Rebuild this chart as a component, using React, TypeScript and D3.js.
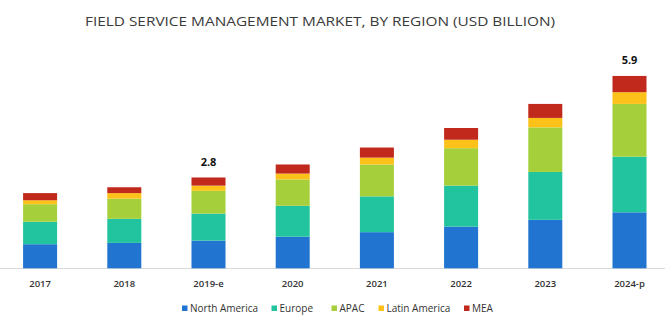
import React from "react";
import * as d3 from "d3";

const categories = ["2017", "2018", "2019-e", "2020", "2021", "2022", "2023", "2024-p"];
const seriesNames = ["North America", "Europe", "APAC", "Latin America", "MEA"];
const northAmerica = [0.74, 0.78, 0.85, 0.97, 1.11, 1.28, 1.49, 1.72];
const europe = [0.69, 0.74, 0.83, 0.95, 1.10, 1.26, 1.47, 1.71];
const apac = [0.54, 0.62, 0.70, 0.81, 0.98, 1.15, 1.37, 1.62];
const latinAmerica = [0.12, 0.17, 0.16, 0.18, 0.21, 0.26, 0.29, 0.36];
const mea = [0.22, 0.18, 0.25, 0.28, 0.31, 0.36, 0.43, 0.50];
const totalLabels: (string | null)[] = [null, null, "2.8", null, null, null, null, "5.9"];
const colors = ["#2175d1", "#22c4a0", "#a6d03b", "#fdc21a", "#c2291d"];

const W = 672;
const H = 321;

export default function App() {
  const seriesValues = [northAmerica, europe, apac, latinAmerica, mea];
  const rows = categories.map((c, i) => {
    const r: any = { cat: c };
    seriesNames.forEach((s, j) => (r[s] = seriesValues[j][i]));
    return r;
  });
  const stack = d3.stack<any>().keys(seriesNames)(rows);
  const x = d3.scaleBand().domain(categories).range([-2, 671.6]).paddingInner(0.596).paddingOuter(0.298);
  const y = d3.scaleLinear().domain([0, 6]).range([268.3, 268.3 - 6 * 32.55]);

  const legendX = [182, 271.5, 331.5, 378.5, 464];

  return (
    <svg width={W} height={H} style={{ position: "absolute", left: 0, top: 0, background: "#fff" }}>
      <text x={320} y={25.5} textAnchor="middle" fontFamily="'Open Sans', sans-serif" fontSize={13.5} fill="#3a3a3a" textLength={470} lengthAdjust="spacingAndGlyphs">
        FIELD SERVICE MANAGEMENT MARKET, BY REGION (USD BILLION)
      </text>
      <line x1={0} x2={665} y1={268.5} y2={268.5} stroke="#d9d9d9" strokeWidth={1.2} />
      {stack.map((layer, j) => (
        <g key={seriesNames[j]} fill={colors[j]}>
          {layer.map((d, i) => (
            <rect key={i} x={x(categories[i])!} width={x.bandwidth()} y={y(d[1])} height={y(d[0]) - y(d[1])} />
          ))}
        </g>
      ))}
      {categories.map((c, i) => {
        const total = stack[stack.length - 1][i][1];
        return totalLabels[i] ? (
          <text key={c} x={x(c)! + x.bandwidth() / 2} y={y(total) - 11.5} textAnchor="middle" fontFamily="'Open Sans', sans-serif" fontWeight="bold" fontSize={11} fill="#111">
            {totalLabels[i]}
          </text>
        ) : null;
      })}
      {categories.map((c) => (
        <text key={c} x={x(c)! + x.bandwidth() / 2} y={286.5} textAnchor="middle" fontFamily="'Open Sans', sans-serif" fontWeight="600" fontSize={9.5} fill="#333">
          {c}
        </text>
      ))}
      {seriesNames.map((s, j) => (
        <g key={s} transform={`translate(${legendX[j]},308.5)`}>
          <rect x={0} y={-3} width={5.5} height={5.5} fill={colors[j]} />
          <text x={8} y={3.5} fontFamily="'Open Sans', sans-serif" fontSize={10} fill="#333">
            {s}
          </text>
        </g>
      ))}
    </svg>
  );
}
